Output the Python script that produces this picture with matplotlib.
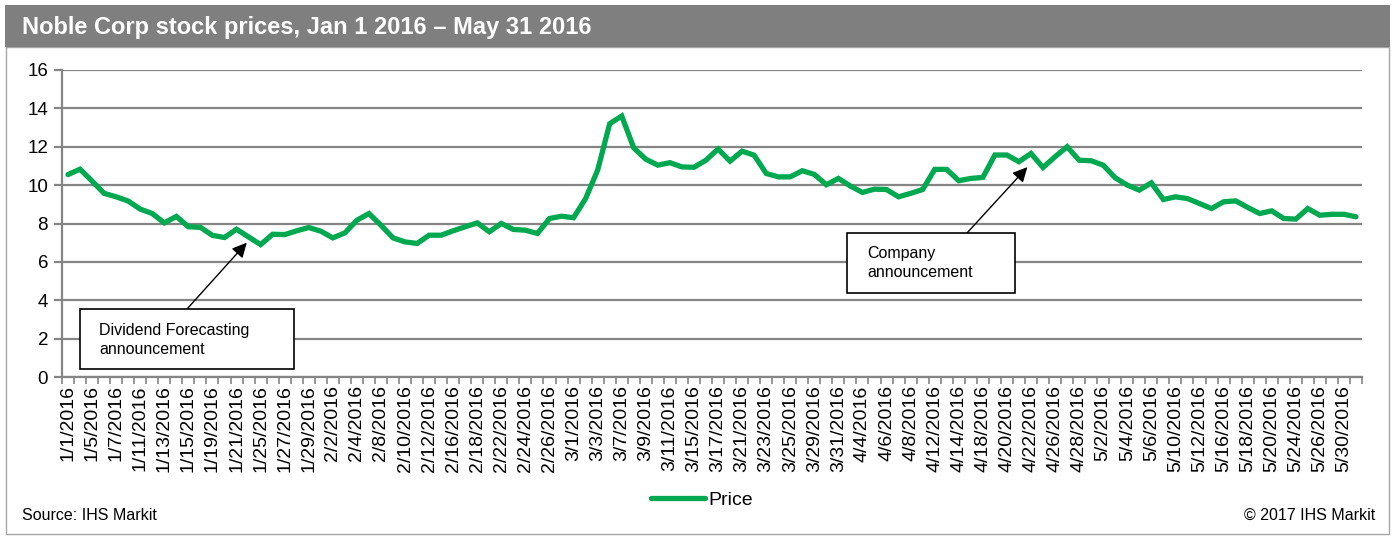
import numpy as np
import pandas as pd
import matplotlib
matplotlib.use("Agg")
import matplotlib.pyplot as plt
from matplotlib.patches import Rectangle

plt.rcParams['font.family'] = ['Liberation Sans', 'DejaVu Sans']

# weekdays Jan 1 - May 31 2016 (108 categories)
dates = pd.bdate_range('2016-01-01', '2016-05-31')
labels = [f"{d.month}/{d.day}/{d.year}" for d in dates]

price = [
    10.55, 10.83, 10.21, 9.57, 9.39, 9.17, 8.75, 8.52, 8.03, 8.37,
    7.83, 7.80, 7.38, 7.27, 7.70, 7.30, 6.90, 7.44, 7.42, 7.62,
    7.79, 7.60, 7.25, 7.51, 8.17, 8.52, 7.91, 7.25, 7.04, 6.96,
    7.39, 7.39, 7.62, 7.83, 8.03, 7.57, 8.00, 7.69, 7.65, 7.48,
    8.26, 8.38, 8.30, 9.30, 10.78, 13.20, 13.60, 11.94, 11.35, 11.04,
    11.17, 10.95, 10.93, 11.30, 11.88, 11.25, 11.77, 11.56, 10.61, 10.43,
    10.43, 10.75, 10.56, 10.02, 10.35, 9.95, 9.62, 9.79, 9.77, 9.39,
    9.57, 9.77, 10.82, 10.82, 10.23, 10.35, 10.40, 11.57, 11.57, 11.22,
    11.65, 10.92, 11.48, 12.00, 11.30, 11.27, 11.04, 10.38, 10.00, 9.74,
    10.12, 9.25, 9.39, 9.30, 9.04, 8.78, 9.13, 9.18, 8.84, 8.52,
    8.66, 8.26, 8.23, 8.78, 8.43, 8.48, 8.48, 8.35,
]

yticks = [0, 2, 4, 6, 8, 10, 12, 14, 16]

W, H = 1392, 537
fig = plt.figure(figsize=(W / 100, H / 100), dpi=100)


def px(x, y):
    # image pixel (from top-left) -> figure fraction
    return x / W, 1 - y / H


# outer frame and title bar
fig.patches.append(Rectangle(px(6, 534), 1383 / W, 487 / H, transform=fig.transFigure,
                             fill=False, edgecolor='#a6a6a6', lw=1))
fig.patches.append(Rectangle(px(5, 47), 1385 / W, 42 / H, transform=fig.transFigure,
                             facecolor='#7f7f7f', edgecolor='none'))
fig.text(*px(22, 28), "Noble Corp stock prices, Jan 1 2016 \u2013 May 31 2016",
         color='white', fontsize=17, fontweight='bold', va='center', ha='left')

ax = fig.add_axes([62 / W, 1 - 377 / H, 1300 / W, 307 / H])
x = np.arange(len(price))
ax.plot(x, price, color='#00a84f', lw=3.8, solid_joinstyle='miter', solid_capstyle='round',
        label='Price', zorder=3)

ax.set_xlim(-0.5, len(price) - 0.5)
ax.set_ylim(0, 16)
ax.set_yticks(yticks)
ax.grid(axis='y', color='#858585', lw=1.6)
ax.set_axisbelow(True)
for s in ['top', 'right']:
    ax.spines[s].set_visible(False)
for s in ['left', 'bottom']:
    ax.spines[s].set_color('#858585')
    ax.spines[s].set_linewidth(1.6)

ax.set_xticks(x[::2])
ax.set_xticklabels(labels[::2], rotation=90, fontsize=14)
ax.set_xticks(np.arange(-0.5, len(price), 1), minor=True)
ax.tick_params(axis='x', which='major', length=0, pad=6)
ax.tick_params(axis='x', which='minor', length=5, color='#858585', width=1.2)
ax.tick_params(axis='y', length=6, color='#858585', width=1.6, labelsize=13.5, pad=4)


# annotation boxes
def note(x0, y0, x1, y1, tx, ty, text):
    fig.patches.append(Rectangle(px(x0, y1), (x1 - x0) / W, (y1 - y0) / H,
                                 transform=fig.transFigure, facecolor='white',
                                 edgecolor='black', lw=1.2, zorder=5))
    fig.text(*px(tx, ty), text, fontsize=11.5, va='center', ha='left',
             linespacing=1.3, zorder=6)


note(80, 309, 294, 369, 99, 340, "Dividend Forecasting\nannouncement")
note(847, 233, 1015, 293, 867, 263, "Company\nannouncement")

ax.annotate('', xy=(14.85, 7.0), xycoords='data', xytext=px(187, 309),
            textcoords='figure fraction',
            arrowprops=dict(arrowstyle='-|>', color='black', lw=1, mutation_scale=22,
                            shrinkA=0, shrinkB=0))
ax.annotate('', xy=(79.7, 10.94), xycoords='data', xytext=px(967, 233),
            textcoords='figure fraction',
            arrowprops=dict(arrowstyle='-|>', color='black', lw=1, mutation_scale=22,
                            shrinkA=0, shrinkB=0))

fig.legend(loc='center', bbox_to_anchor=px(702, 500), frameon=False, fontsize=14,
           handlelength=2.8, handletextpad=0.15)

fig.text(*px(22, 515), "Source: IHS Markit", fontsize=11.5, va='center', ha='left')
fig.text(*px(1375, 515), "\u00a9 2017 IHS Markit", fontsize=11.5, va='center', ha='right')

fig.savefig('out.png', dpi=100)
